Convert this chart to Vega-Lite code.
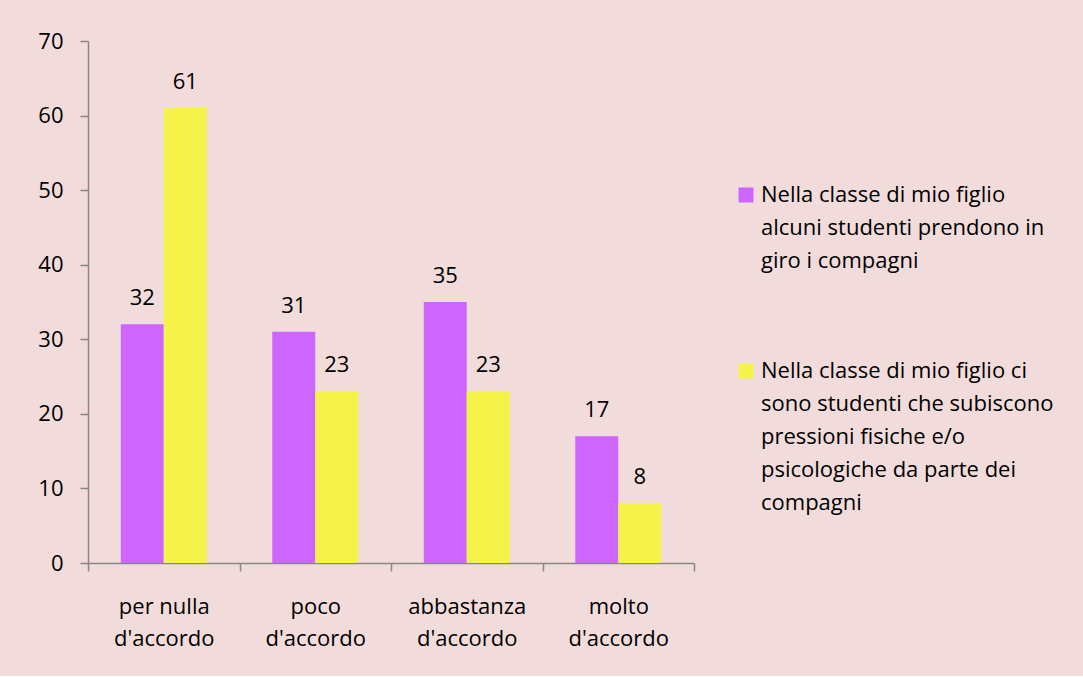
{
  "$schema": "https://vega.github.io/schema/vega-lite/v6.json",
  "autosize": {"type": "none"},
  "padding": {"left": 88, "top": 41, "right": 389, "bottom": 113},
  "width": 606,
  "height": 522,
  "background": "#F2DCDB",
  "config": {
    "view": {"stroke": null},
    "font": "Open Sans",
    "axis": {"labelFont": "Open Sans", "labelColor": "#000000", "domainColor": "#868686", "tickColor": "#868686", "grid": false, "domainWidth": 1.5, "tickWidth": 1.5},
    "legend": {"labelFont": "Open Sans", "labelColor": "#000000"}
  },
  "data": {
    "values": [
      {"categoria": "per nulla|d'accordo", "serie": "Nella classe di mio figlio|alcuni studenti prendono in|giro i compagni", "valore": 32},
      {"categoria": "per nulla|d'accordo", "serie": "Nella classe di mio figlio ci|sono studenti che subiscono|pressioni fisiche e/o|psicologiche da parte dei|compagni", "valore": 61},
      {"categoria": "poco|d'accordo", "serie": "Nella classe di mio figlio|alcuni studenti prendono in|giro i compagni", "valore": 31},
      {"categoria": "poco|d'accordo", "serie": "Nella classe di mio figlio ci|sono studenti che subiscono|pressioni fisiche e/o|psicologiche da parte dei|compagni", "valore": 23},
      {"categoria": "abbastanza|d'accordo", "serie": "Nella classe di mio figlio|alcuni studenti prendono in|giro i compagni", "valore": 35},
      {"categoria": "abbastanza|d'accordo", "serie": "Nella classe di mio figlio ci|sono studenti che subiscono|pressioni fisiche e/o|psicologiche da parte dei|compagni", "valore": 23},
      {"categoria": "molto|d'accordo", "serie": "Nella classe di mio figlio|alcuni studenti prendono in|giro i compagni", "valore": 17},
      {"categoria": "molto|d'accordo", "serie": "Nella classe di mio figlio ci|sono studenti che subiscono|pressioni fisiche e/o|psicologiche da parte dei|compagni", "valore": 8}
    ]
  },
  "encoding": {
    "x": {
      "field": "categoria", "type": "nominal", "sort": null,
      "scale": {"paddingInner": 0, "paddingOuter": 0},
      "axis": {"title": null, "labelAngle": 0, "labelExpr": "split(datum.label, '|')", "labelFontSize": 22, "labelLineHeight": 32, "labelPadding": 25, "tickBand": "extent", "tickSize": 8, "labelBaseline": "top"}
    },
    "xOffset": {"field": "serie", "type": "nominal", "sort": null, "scale": {"paddingInner": 0, "paddingOuter": 0.762}},
    "y": {
      "field": "valore", "type": "quantitative",
      "scale": {"domain": [0, 70], "nice": false},
      "axis": {"title": null, "values": [0, 10, 20, 30, 40, 50, 60, 70], "labelFontSize": 22, "tickSize": 8, "labelPadding": 17}
    }
  },
  "layer": [
    {
      "mark": {"type": "bar"},
      "encoding": {
        "color": {
          "field": "serie", "type": "nominal", "sort": null,
          "scale": {"range": ["#CC66FF", "#F5F24A"]},
          "legend": {
            "title": null, "orient": "none", "legendX": 647, "legendY": 143,
            "symbolType": "square", "symbolSize": 225, "symbolStrokeWidth": 0, "symbolOpacity": 1,
            "labelExpr": "split(datum.label, '|')", "labelFontSize": 22,
            "labelLimit": 400, "labelOffset": 4, "labelBaseline": "top", "rowPadding": 88,
            "encode": {"labels": {"update": {"dy": {"value": -10}, "lineHeight": {"value": 33}}}}
          }
        }
      }
    },
    {
      "mark": {"type": "text", "baseline": "alphabetic", "dy": -19, "fontSize": 22, "color": "#000000"},
      "encoding": {"text": {"field": "valore", "type": "quantitative"}}
    }
  ]
}
